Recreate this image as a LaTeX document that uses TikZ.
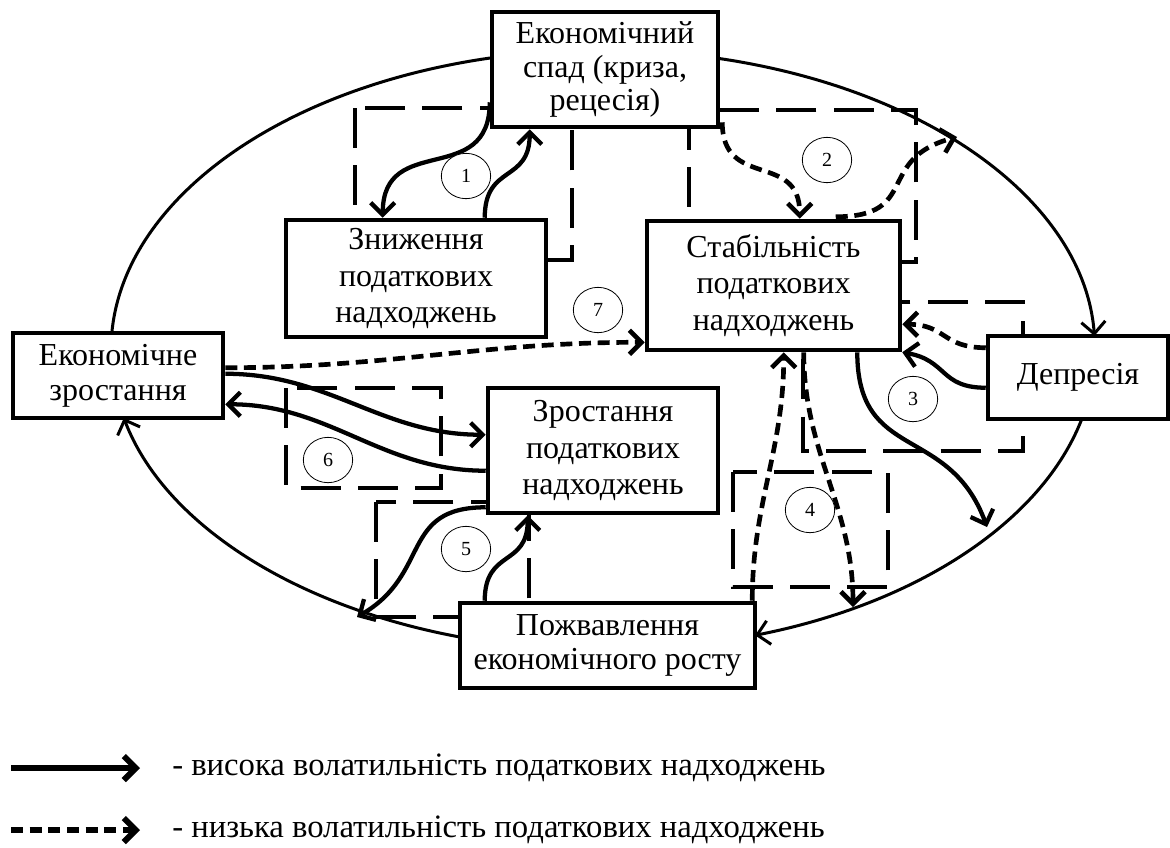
\documentclass[tikz,border=0pt]{standalone}
\usepackage{fontspec}
\setmainfont{Liberation Serif}
\usepackage{graphicx}
\usetikzlibrary{arrows.meta,calc,shapes.geometric}

\begin{document}
\begin{tikzpicture}[x=0.75pt,y=0.75pt,
	stage/.style={draw,line width=3.4pt,fill=white,align=center,inner sep=0pt,font=\fontsize{24}{27.5}\selectfont},
	numtag/.style={draw,ellipse,line width=0.6pt,fill=white,inner sep=0pt,minimum width=37pt,minimum height=34pt,font=\fontsize{15}{15}\selectfont},
	zone/.style={line width=3pt,dash pattern=on 30pt off 13pt},
	orbit/.style={line width=2.25pt},
	tip/.style={arrows={-Straight Barb[length=9pt,width=18pt]}},
	volhigh/.style={line width=3.2pt,tip},
	vollow/.style={line width=3.5pt,dash pattern=on 9pt off 5pt,tip}]
	\useasboundingbox (0,0) rectangle (1170,-847);

	\draw [zone] (355,-108) rectangle (572,-260);
	\draw [zone] (689,-110) rectangle (916,-262);
	\draw [zone] (803,-302) rectangle (1023,-451);
	\draw [zone] (733,-472) rectangle (888,-587);
	\draw [zone] (376,-502) rectangle (529,-617);
	\draw [zone] (286,-388) rectangle (441,-488);

	\node [stage,minimum width=169.5pt,minimum height=86.25pt,font=\fontsize{24}{25}\selectfont] (crisis) at (605,-69.5) {Економічний\\спад (криза,\\рецесія)};
	\node [stage,minimum width=195pt,minimum height=87.75pt] (decline) at (416,-278.5) {Зниження\\податкових\\надходжень};
	\node [stage,minimum width=189.75pt,minimum height=96.75pt] (stab) at (773.5,-285.5) {Стабільність\\податкових\\надходжень};
	\node [stage,minimum width=135pt,minimum height=62.25pt] (depr) at (1078,-377.5) {Депресія};
	\node [stage,minimum width=157.5pt,minimum height=63.75pt,font=\fontsize{24}{26}\selectfont] (growth) at (118,-375.5) {Економічне\\зростання};
	\node [stage,minimum width=172.5pt,minimum height=93.75pt] (rise) at (603,-450.5) {Зростання\\податкових\\надходжень};
	\node [stage,minimum width=221.25pt,minimum height=63.75pt,font=\fontsize{24}{26}\selectfont] (revival) at (607.5,-645.5) {Пожвавлення\\економічного росту};

	\coordinate (ecen) at (603,-350);
	\draw [orbit,tip] ($(ecen)+(76.5:492 and 300)$) arc [start angle=76.5,end angle=2.7,x radius=492,y radius=300];
	\draw [orbit,tip] ($(ecen)+(-13.5:492 and 300)$) arc [start angle=-13.5,end angle=-72,x radius=492,y radius=300];
	\draw [orbit,tip] ($(ecen)+(-106.9:492 and 300)$) arc [start angle=-106.9,end angle=-166.9,x radius=492,y radius=300];
	\draw [orbit] ($(ecen)+(176.8:492 and 300)$) arc [start angle=176.8,end angle=103,x radius=492,y radius=300];

	\coordinate (out2) at (957,-137);
	\coordinate (out3) at (987,-527);
	\coordinate (out4) at (853,-607);
	\coordinate (out5) at (357,-617);

	\draw [volhigh] ($(crisis.south west)+(0,27)$) to [out=-90,in=90,looseness=1.4] ($(decline.north west)+(99,0)$);
	\draw [volhigh] ($(decline.north west)+(201,0)$) to [out=90,in=-90,looseness=1.4] ($(crisis.south west)+(40,0)$);
	\draw [vollow] ($(crisis.south east)+(2,7)$) to [out=-90,in=90,looseness=1.4] ($(stab.north west)+(155,0)$);
	\draw [vollow] ($(stab.north west)+(191,2)$) to [out=0,in=195,looseness=1.5] (out2);
	\draw [vollow] ($(depr.north west)+(0,-14)$) to [out=180,in=0,looseness=1.3] ($(stab.south east)+(0,28)$);
	\draw [volhigh] ($(depr.north west)+(0,-54)$) to [out=180,in=-10,looseness=1.3] (stab.south east);
	\draw [volhigh] ($(stab.south east)+(-45,0)$) to [out=-90,in=110,looseness=1.3] (out3);
	\draw [vollow] ($(revival.north east)+(-5,0)$) to [out=90,in=-90] ($(stab.south west)+(139,0)$);
	\draw [vollow] ($(stab.south west)+(159,0)$) to [out=-90,in=90] (out4);
	\draw [volhigh] ($(rise.south west)+(0,8)$) to [out=180,in=30,looseness=1.3] (out5);
	\draw [volhigh] ($(revival.north west)+(27,0)$) to [out=90,in=-90,looseness=1.4] ($(rise.south west)+(42,0)$);
	\draw [volhigh] ($(growth.north east)+(0,-43)$) to [out=0,in=180] ($(rise.north west)+(0,-49)$);
	\draw [volhigh] ($(rise.north west)+(0,-85)$) to [out=180,in=0] ($(growth.south east)+(0,16)$);
	\draw [vollow] ($(growth.north east)+(0,-37)$) to [out=0,in=180] ($(stab.south west)+(0,10)$);

	\node [numtag] (n1) at (466,-176) {1};
	\node [numtag] (n2) at (827,-160) {2};
	\node [numtag] (n3) at (913,-399) {3};
	\node [numtag] (n4) at (810,-510) {4};
	\node [numtag] (n5) at (466,-549) {5};
	\node [numtag] (n6) at (328,-460) {6};
	\node [numtag] (n7) at (598,-310) {7};

	\coordinate (ka) at (11,-768);
	\coordinate (kb) at (140,-768);
	\coordinate (kc) at (11,-830);
	\coordinate (kd) at (140,-830);
	\draw [volhigh,line width=4.5pt] (ka) -- (kb);
	\draw [vollow,line width=4.5pt] (kc) -- (kd);
	\node [anchor=west,inner sep=0pt,font=\fontsize{24.5}{26}\selectfont] (khigh) at (172,-768) {- висока волатильність податкових надходжень};
	\node [anchor=west,inner sep=0pt,font=\fontsize{24.5}{26}\selectfont] (klow) at (172,-830) {- низька волатильність податкових надходжень};
\end{tikzpicture}
\end{document}
